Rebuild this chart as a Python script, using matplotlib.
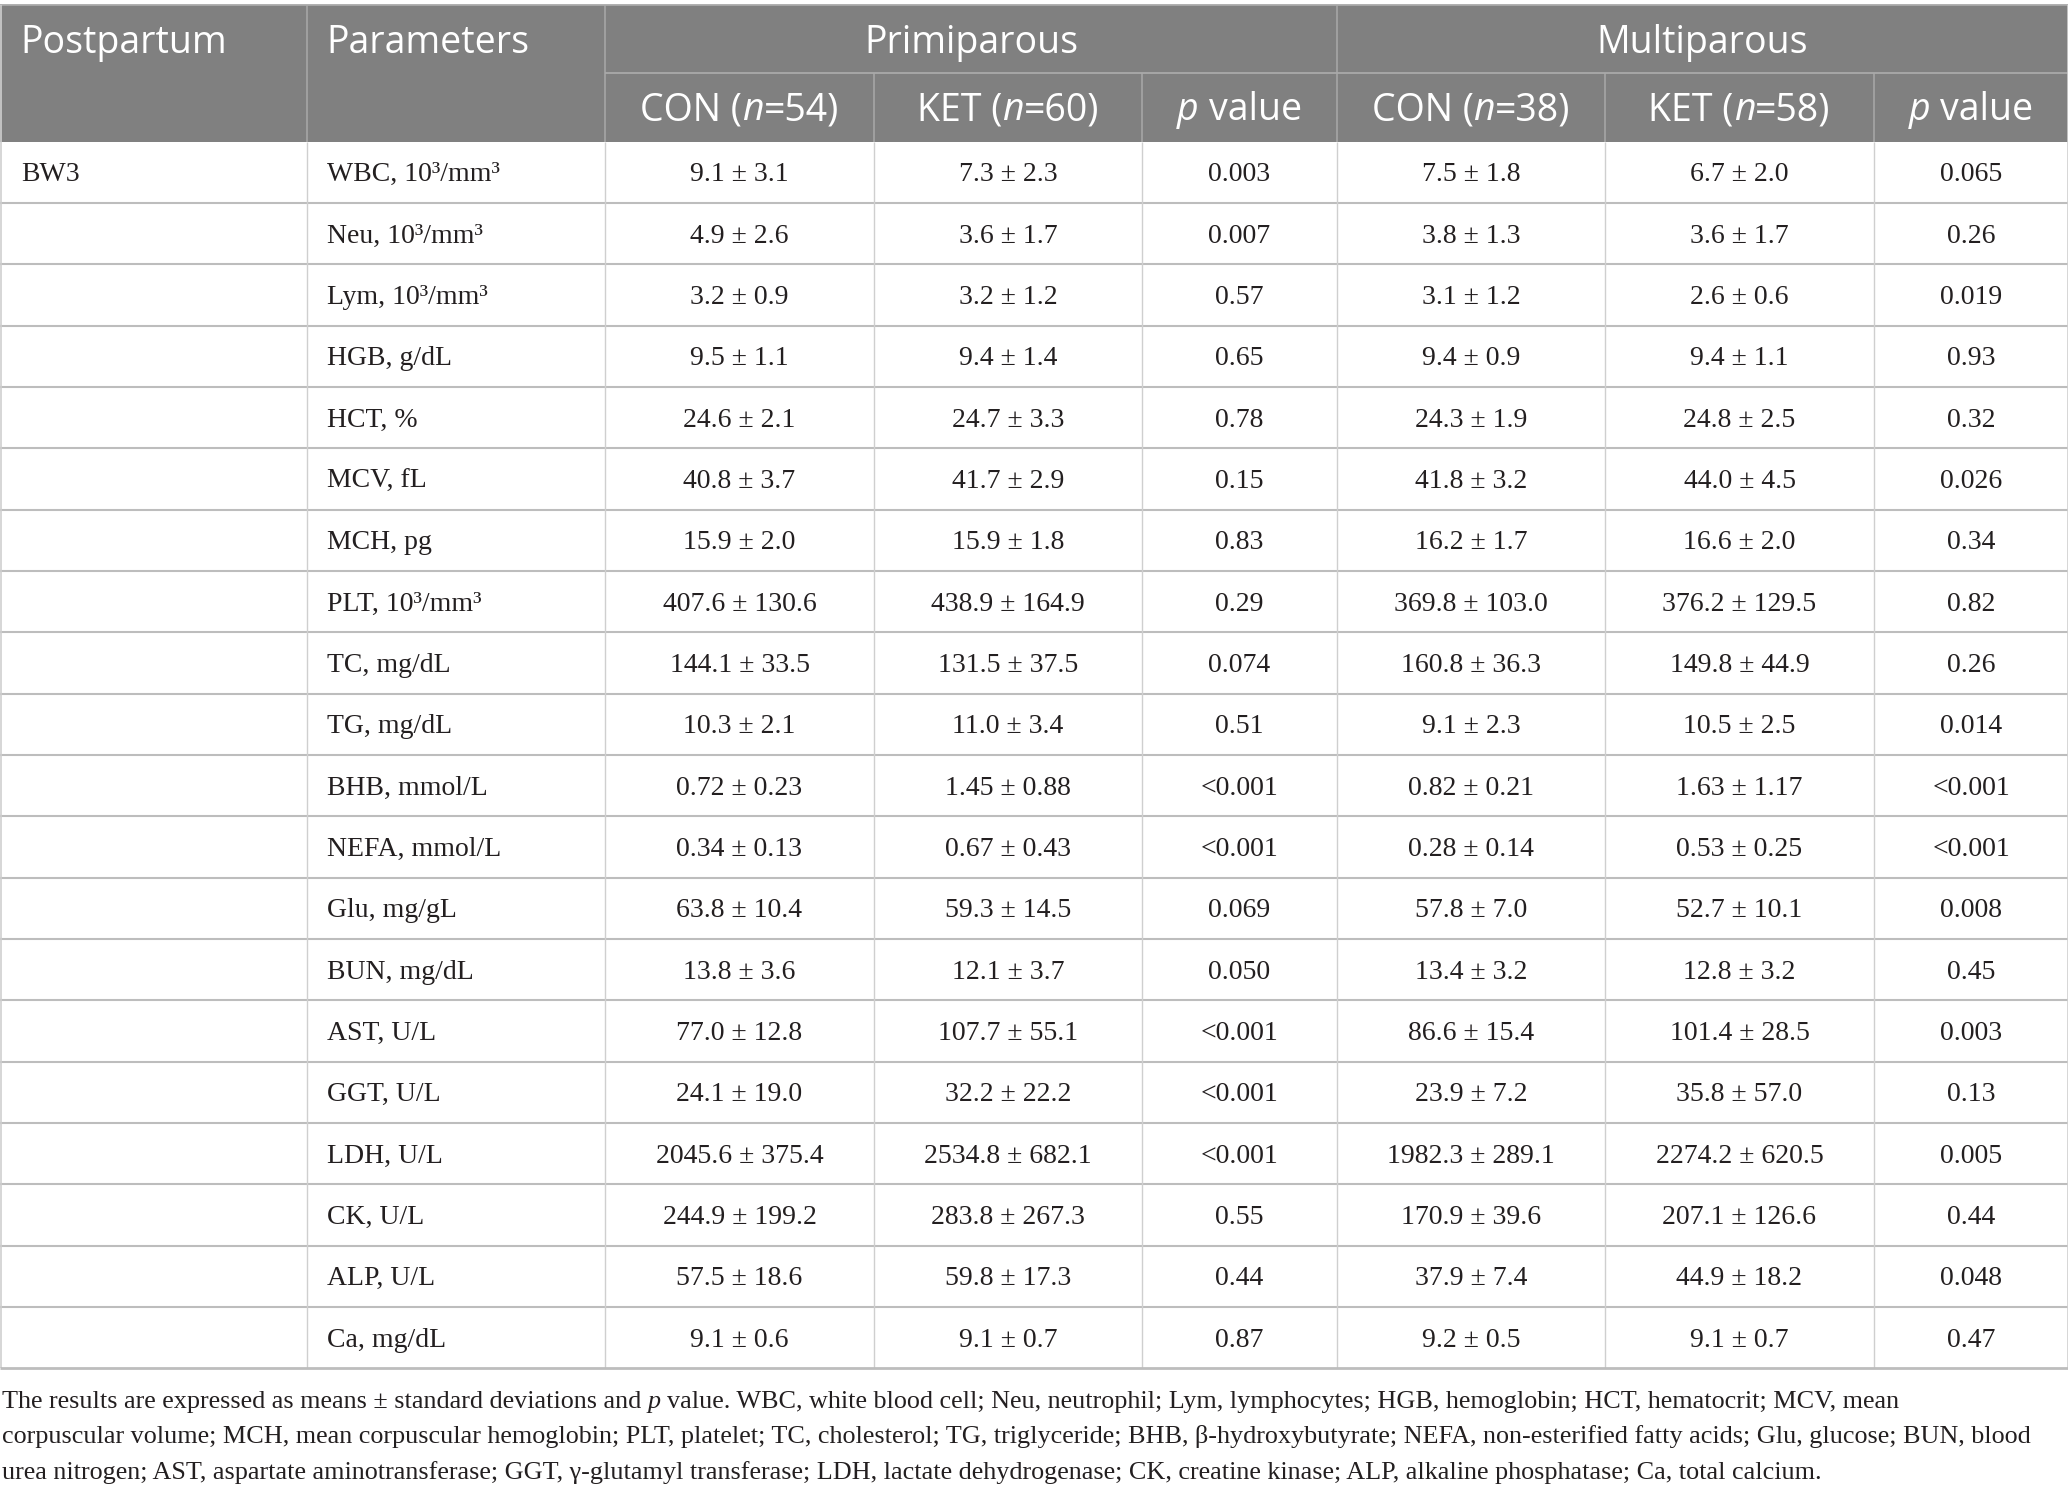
import matplotlib
matplotlib.use("Agg")
import matplotlib.pyplot as plt
from matplotlib.transforms import IdentityTransform
from matplotlib.patches import Rectangle
from matplotlib.lines import Line2D

W, H = 2068, 1498
DPI = 100

# ---- table data ----
postpartum = ["BW3"] + [""] * 19
params = ["WBC, 10³/mm³", "Neu, 10³/mm³", "Lym, 10³/mm³", "HGB, g/dL", "HCT, %",
          "MCV, fL", "MCH, pg", "PLT, 10³/mm³", "TC, mg/dL", "TG, mg/dL",
          "BHB, mmol/L", "NEFA, mmol/L", "Glu, mg/gL", "BUN, mg/dL", "AST, U/L",
          "GGT, U/L", "LDH, U/L", "CK, U/L", "ALP, U/L", "Ca, mg/dL"]
prim_con = ["9.1 ± 3.1", "4.9 ± 2.6", "3.2 ± 0.9", "9.5 ± 1.1", "24.6 ± 2.1",
            "40.8 ± 3.7", "15.9 ± 2.0", "407.6 ± 130.6", "144.1 ± 33.5", "10.3 ± 2.1",
            "0.72 ± 0.23", "0.34 ± 0.13", "63.8 ± 10.4", "13.8 ± 3.6", "77.0 ± 12.8",
            "24.1 ± 19.0", "2045.6 ± 375.4", "244.9 ± 199.2", "57.5 ± 18.6", "9.1 ± 0.6"]
prim_ket = ["7.3 ± 2.3", "3.6 ± 1.7", "3.2 ± 1.2", "9.4 ± 1.4", "24.7 ± 3.3",
            "41.7 ± 2.9", "15.9 ± 1.8", "438.9 ± 164.9", "131.5 ± 37.5", "11.0 ± 3.4",
            "1.45 ± 0.88", "0.67 ± 0.43", "59.3 ± 14.5", "12.1 ± 3.7", "107.7 ± 55.1",
            "32.2 ± 22.2", "2534.8 ± 682.1", "283.8 ± 267.3", "59.8 ± 17.3", "9.1 ± 0.7"]
prim_p = ["0.003", "0.007", "0.57", "0.65", "0.78", "0.15", "0.83", "0.29", "0.074", "0.51",
          "<0.001", "<0.001", "0.069", "0.050", "<0.001", "<0.001", "<0.001", "0.55", "0.44", "0.87"]
multi_con = ["7.5 ± 1.8", "3.8 ± 1.3", "3.1 ± 1.2", "9.4 ± 0.9", "24.3 ± 1.9",
             "41.8 ± 3.2", "16.2 ± 1.7", "369.8 ± 103.0", "160.8 ± 36.3", "9.1 ± 2.3",
             "0.82 ± 0.21", "0.28 ± 0.14", "57.8 ± 7.0", "13.4 ± 3.2", "86.6 ± 15.4",
             "23.9 ± 7.2", "1982.3 ± 289.1", "170.9 ± 39.6", "37.9 ± 7.4", "9.2 ± 0.5"]
multi_ket = ["6.7 ± 2.0", "3.6 ± 1.7", "2.6 ± 0.6", "9.4 ± 1.1", "24.8 ± 2.5",
             "44.0 ± 4.5", "16.6 ± 2.0", "376.2 ± 129.5", "149.8 ± 44.9", "10.5 ± 2.5",
             "1.63 ± 1.17", "0.53 ± 0.25", "52.7 ± 10.1", "12.8 ± 3.2", "101.4 ± 28.5",
             "35.8 ± 57.0", "2274.2 ± 620.5", "207.1 ± 126.6", "44.9 ± 18.2", "9.1 ± 0.7"]
multi_p = ["0.065", "0.26", "0.019", "0.93", "0.32", "0.026", "0.34", "0.82", "0.26", "0.014",
           "<0.001", "<0.001", "0.008", "0.45", "0.003", "0.13", "0.005", "0.44", "0.048", "0.47"]

groups = ["Primiparous", "Multiparous"]
group_n = [(54, 60), (38, 58)]

footnote = [
    [("The results are expressed as means ± standard deviations and", "normal"), ("p", "italic"),
     ("value. WBC, white blood cell; Neu, neutrophil; Lym, lymphocytes; HGB, hemoglobin; HCT, hematocrit; MCV, mean", "normal")],
    [("corpuscular volume; MCH, mean corpuscular hemoglobin; PLT, platelet; TC, cholesterol; TG, triglyceride; "
      "BHB, β-hydroxybutyrate; NEFA, non-esterified fatty acids; Glu, glucose; BUN, blood", "normal")],
    [("urea nitrogen; AST, aspartate aminotransferase; GGT, γ-glutamyl transferase; LDH, lactate dehydrogenase; "
      "CK, creatine kinase; ALP, alkaline phosphatase; Ca, total calcium.", "normal")],
]

# ---- layout (pixels, y measured from top) ----
col_x = [0, 307, 605, 874, 1142, 1337, 1605, 1874, 2068]
top = 5
h1_bot = 72.7
h2_bot = 141.7
row_h = 61.33
n_rows = len(params)
tab_bot = h2_bot + n_rows * row_h

HEAD_BG = "#808080"
HEAD_LINE = "#a9a9a9"
GRID = "#cfcfcf"
ROW_LINE = "#bdbdbd"
TXT = "#231f20"
SANS = "Open Sans"
SERIF = "Liberation Serif"
HEAD_FS = 27
BODY_FS = 20

fig = plt.figure(figsize=(W / DPI, H / DPI), dpi=DPI)
fig.patch.set_facecolor("white")
renderer = fig.canvas.get_renderer()
ident = IdentityTransform()


def Y(y):
    return H - y


def put(x, y, s, **kw):
    return fig.text(x, Y(y), s, transform=ident, **kw)


def line(x0, y0, x1, y1, color, lw):
    fig.add_artist(Line2D([x0, x1], [Y(y0), Y(y1)], transform=ident, color=color,
                          lw=lw, solid_capstyle="butt"))


def width_of(s, **kw):
    t = put(0, 0, s, **kw)
    w = t.get_window_extent(renderer).width
    t.remove()
    return w


def rich(x, y, parts, ha="left", gap=True, **kw):
    # parts: (text, style); a space goes between parts when gap is set
    sp = width_of("x x", **kw) - width_of("xx", **kw) if gap else 0
    ws = [width_of(s, style=st, **kw) for s, st in parts]
    total = sum(ws) + sp * (len(parts) - 1)
    if ha == "center":
        x = x - total / 2
    for (s, st), w in zip(parts, ws):
        put(x, y, s, style=st, ha="left", va="baseline", **kw)
        x += w + sp
    return total


# header background
fig.add_artist(Rectangle((0, Y(h2_bot)), W, h2_bot - top, transform=ident,
                         facecolor=HEAD_BG, edgecolor="none"))

hk = dict(fontsize=HEAD_FS, family=SANS, color="white")
put(col_x[0] + 20, 53, "Postpartum", va="baseline", **hk)
put(col_x[1] + 19, 53, "Parameters", va="baseline", **hk)
for g, name in enumerate(groups):
    c0 = col_x[2 + 3 * g]
    c1 = col_x[5 + 3 * g]
    put((c0 + c1) / 2, 53, name, ha="center", va="baseline", **hk)
    n_con, n_ket = group_n[g]
    subs = [[("CON (", "normal"), ("n", "italic"), ("=%d)" % n_con, "normal")],
            [("KET (", "normal"), ("n", "italic"), ("=%d)" % n_ket, "normal")]]
    for k, parts in enumerate(subs):
        a, b = col_x[2 + 3 * g + k], col_x[3 + 3 * g + k]
        rich((a + b) / 2, 120, parts, ha="center", gap=False, **hk)
    a, b = col_x[4 + 3 * g], col_x[5 + 3 * g]
    rich((a + b) / 2, 120, [("p", "italic"), ("value", "normal")], ha="center", **hk)

# header lines
line(col_x[2], h1_bot, W, h1_bot, HEAD_LINE, 1.3)
for x in [col_x[1], col_x[2], col_x[5]]:
    line(x, top, x, h2_bot, HEAD_LINE, 1.1)
for x in [col_x[3], col_x[4], col_x[6], col_x[7]]:
    line(x, h1_bot, x, h2_bot, HEAD_LINE, 1.1)
line(0, top, W, top, HEAD_LINE, 1.3)

# body
bk = dict(fontsize=BODY_FS, family=SERIF, color=TXT, va="baseline")
columns = [prim_con, prim_ket, prim_p, multi_con, multi_ket, multi_p]
for i in range(n_rows):
    y0 = h2_bot + i * row_h
    base = y0 + row_h / 2 + 9
    put(col_x[0] + 21, base, postpartum[i], **bk)
    put(col_x[1] + 20, base, params[i], **bk)
    for j, col in enumerate(columns):
        put((col_x[2 + j] + col_x[3 + j]) / 2, base, col[i], ha="center", **bk)
    if i > 0:
        line(0, y0, W, y0, ROW_LINE, 1.5)

for x in col_x[1:-1]:
    line(x, h2_bot, x, tab_bot, GRID, 1.0)
line(0.5, top, 0.5, tab_bot, GRID, 1.2)
line(W - 0.5, top, W - 0.5, tab_bot, GRID, 1.2)
line(0, tab_bot, W, tab_bot, ROW_LINE, 2.0)

# footnote, sized so the longest line fits the table width
fk = dict(family=SERIF, color=TXT)
fs = 18
sp0 = width_of("x x", fontsize=fs, **fk) - width_of("xx", fontsize=fs, **fk)
longest = max(
    sum(width_of(s, style=st, fontsize=fs, **fk) for s, st in parts) + (len(parts) - 1) * sp0
    for parts in footnote
)
fs = fs * 2030 / longest
for k, parts in enumerate(footnote):
    rich(2, 1408 + k * 35.5, parts, fontsize=fs, **fk)

fig.savefig("out.png", dpi=DPI, facecolor="white")
